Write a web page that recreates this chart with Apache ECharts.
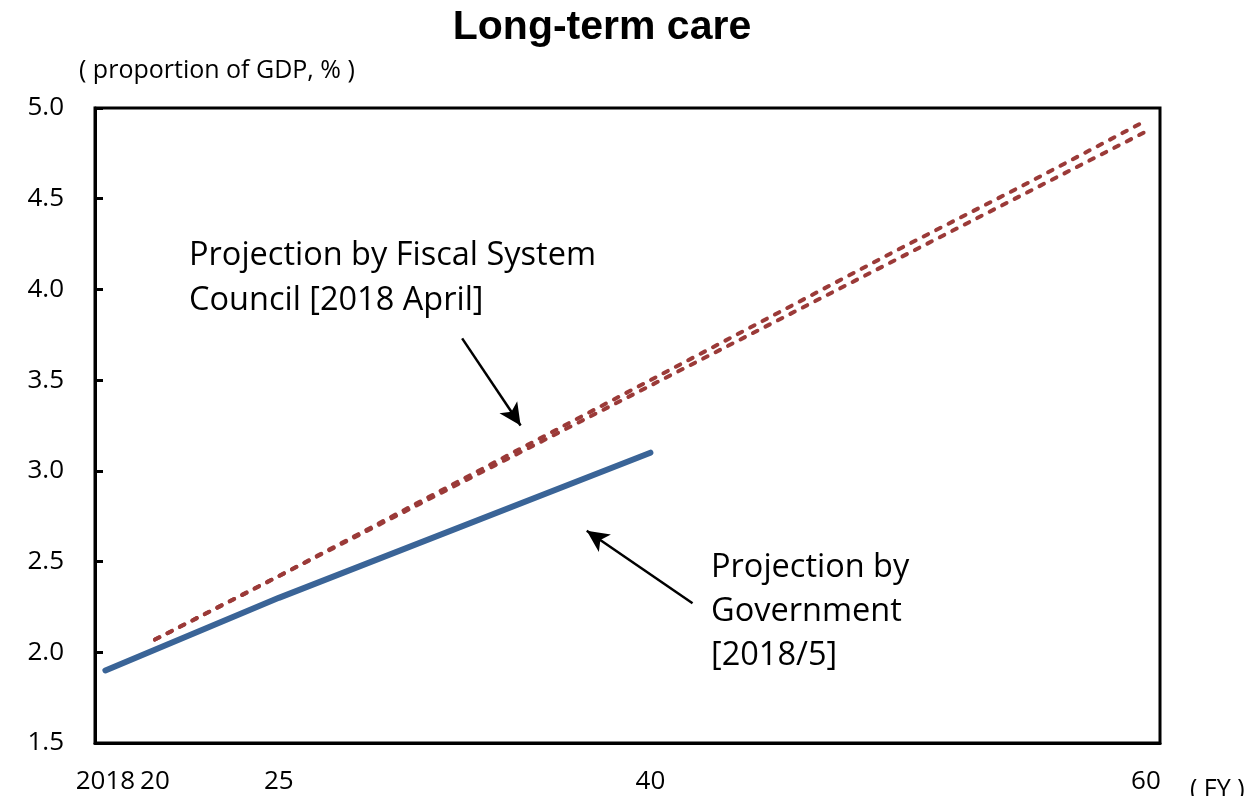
<!DOCTYPE html>
<html>
<head>
<meta charset="utf-8">
<script src="https://cdn.jsdelivr.net/npm/echarts@6/dist/echarts.min.js"></script>
<style>html,body{margin:0;padding:0;background:#fff;}#c{width:1250px;height:796px;}</style>
</head>
<body>
<div id="c"></div>
<script>
// ---- data ----
const govYears = [2018, 2025, 2040];
const govValues = [1.9, 2.3, 3.1];
const fscYears = [2020, 2025, 2030, 2035, 2040, 2045, 2050, 2055, 2060];
const fscUpper = [2.07, 2.42, 2.78, 3.14, 3.50, 3.86, 4.22, 4.57, 4.93];
const fscLower = [2.07, 2.42, 2.77, 3.12, 3.47, 3.82, 4.17, 4.52, 4.87];
const xTickValues = [2018, 2020, 2025, 2040, 2060];
const yTicks = [1.5, 2.0, 2.5, 3.0, 3.5, 4.0, 4.5, 5.0];
const titleText = 'Long-term care';
const yAxisName = '( proportion of GDP, % )';
const xAxisName = '( FY )';
const noteFiscal = 'Projection by Fiscal System\nCouncil [2018 April]';
const noteGov = 'Projection by\nGovernment\n[2018/5]';
// arrow annotations in data coordinates [year, value]
const arrowFiscal = [[2032.4, 3.73], [2034.76, 3.25]];
const arrowGov = [[2041.7, 2.27], [2037.43, 2.67]];

const FONT = 'Open Sans';
const zip = (xs, ys) => xs.map((x, i) => [x, ys[i]]);

const chart = echarts.init(document.getElementById('c'), null, {renderer: 'canvas'});
chart.setOption({
  animation: false,
  backgroundColor: '#fff',
  title: {
    text: titleText, left: 597, top: 2, textAlign: 'center',
    textStyle: {fontFamily: 'Liberation Sans', fontWeight: 'bold', fontSize: 41, color: '#000'}
  },
  grid: {left: 95, right: 90, top: 108, bottom: 53, show: true, borderColor: '#000', borderWidth: 3, backgroundColor: 'transparent'},
  xAxis: {
    type: 'value', min: 2017.58, max: 2060.57,
    axisLine: {show: true, lineStyle: {color: '#000', width: 3}},
    axisTick: {show: false},
    splitLine: {show: false},
    axisLabel: {
      customValues: xTickValues, margin: 26,
      fontFamily: FONT, fontSize: 26, color: '#000',
      formatter: v => (v === 2018 ? '2018' : String(v % 100))
    }
  },
  yAxis: {
    type: 'value', min: 1.5, max: 5.0, interval: 0.5,
    axisLine: {show: true, lineStyle: {color: '#000', width: 3}},
    axisTick: {show: true, inside: true, length: 8, lineStyle: {color: '#000', width: 3}},
    splitLine: {show: false},
    axisLabel: {margin: 31, fontFamily: FONT, fontSize: 26, color: '#000', formatter: v => v.toFixed(1)}
  },
  graphic: [
    {type: 'text', left: 79, top: 58, style: {text: yAxisName, font: '25px "Open Sans"', fill: '#000'}},
    {type: 'text', left: 1190, top: 777, style: {text: xAxisName, font: '25px "Open Sans"', fill: '#000'}},
    {type: 'text', left: 189, top: 233, style: {text: noteFiscal, font: '32.5px "Open Sans"', lineHeight: 45, fill: '#000'}},
    {type: 'text', left: 711, top: 546, style: {text: noteGov, font: '32.5px "Open Sans"', lineHeight: 44, fill: '#000'}}
  ],
  series: [
    {
      name: 'Fiscal upper', type: 'line', data: zip(fscYears, fscUpper), symbol: 'none', silent: true,
      lineStyle: {color: '#9b3a38', width: 4, type: [5, 9], cap: 'round'}
    },
    {
      name: 'Fiscal lower', type: 'line', data: zip(fscYears, fscLower), symbol: 'none', silent: true,
      lineStyle: {color: '#9b3a38', width: 4, type: [5, 9], cap: 'round'}
    },
    {
      name: 'Government', type: 'line', data: zip(govYears, govValues), symbol: 'none', silent: true,
      lineStyle: {color: '#3a6497', width: 6, cap: 'round'}
    },
    {
      name: 'arrows', type: 'line', data: [], silent: true,
      markLine: {
        silent: true, animation: false,
        symbol: ['none', 'arrow'], symbolSize: [16, 22],
        label: {show: false},
        lineStyle: {color: '#000', width: 2.5, type: 'solid'},
        emphasis: {disabled: true},
        data: [
          [{coord: arrowFiscal[0]}, {coord: arrowFiscal[1]}],
          [{coord: arrowGov[0]}, {coord: arrowGov[1]}]
        ]
      }
    }
  ]
});
</script>
</body>
</html>
